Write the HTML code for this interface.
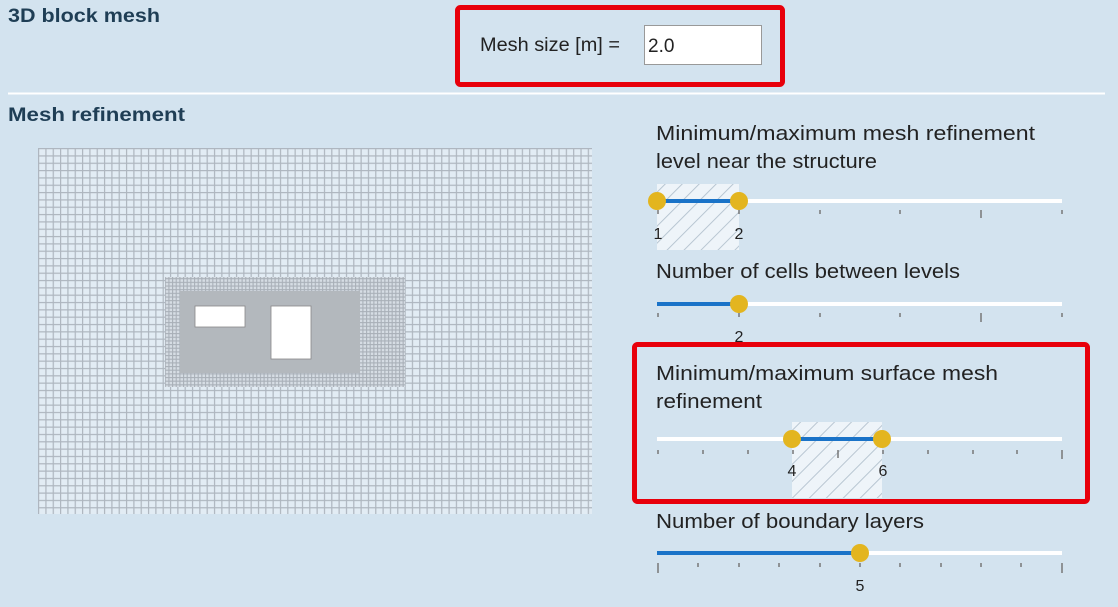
<!DOCTYPE html>
<html><head><meta charset="utf-8"><style>
html,body{margin:0;padding:0;}
body{width:1118px;height:607px;background:#d3e3ef;overflow:hidden;position:relative;font-family:"Liberation Sans",sans-serif;}
</style></head><body>
<svg width="1118" height="607" style="position:absolute;left:0;top:0" font-family="Liberation Sans, sans-serif">
<defs>
<pattern id="g1" x="38" y="148" width="7.33" height="7.33" patternUnits="userSpaceOnUse">
<rect width="7.33" height="7.33" fill="#e2ecf4"/>
<rect x="0" y="0" width="1.2" height="7.33" fill="#aeb6bf"/>
<rect x="0" y="0" width="7.33" height="1.2" fill="#aeb6bf"/>
</pattern>
<pattern id="g2" x="0" y="0" width="3.66" height="3.66" patternUnits="userSpaceOnUse">
<rect width="3.66" height="3.66" fill="#d6dde4"/>
<rect width="1.1" height="3.66" fill="#a9b0b8"/>
<rect width="3.66" height="1.1" fill="#a9b0b8"/>
</pattern>
<pattern id="h" width="12" height="12" patternUnits="userSpaceOnUse" patternTransform="rotate(45)">
<rect width="12" height="12" fill="#eef4f9"/>
<rect width="1" height="12" fill="#b8c6d2"/>
</pattern>
</defs>
<text x="8" y="22" font-size="19" font-weight="bold" fill="#1f3e55" textLength="152" lengthAdjust="spacingAndGlyphs">3D block mesh</text>
<text x="8" y="121" font-size="19" font-weight="bold" fill="#1f3e55" textLength="177" lengthAdjust="spacingAndGlyphs">Mesh refinement</text>
<line x1="8" y1="93.5" x2="1105" y2="93.5" stroke="#fff" stroke-width="2"/>
<rect x="457.5" y="7.5" width="325" height="77" rx="3" fill="none" stroke="#e8000b" stroke-width="5"/>
<text x="480" y="51" font-size="19" fill="#222" textLength="140" lengthAdjust="spacingAndGlyphs">Mesh size [m] =</text>
<rect x="644.5" y="25.5" width="117" height="39" fill="#fff" stroke="#999"/>
<text x="648" y="52" font-size="19" fill="#222">2.0</text>

<rect x="38" y="148" width="554" height="366" fill="url(#g1)"/>
<rect x="165" y="277" width="240" height="110" fill="url(#g2)"/>
<rect x="180" y="291" width="180" height="82" fill="#b3b8bd"/>
<rect x="195" y="306" width="50" height="21" fill="#fff" stroke="#888" stroke-width="0.8"/>
<rect x="271" y="306" width="40" height="53" fill="#fff" stroke="#888" stroke-width="0.8"/>

<g font-size="20" fill="#222" lengthAdjust="spacingAndGlyphs">
<text x="656" y="140" textLength="379" lengthAdjust="spacingAndGlyphs">Minimum/maximum mesh refinement</text>
<text x="656" y="168" textLength="221" lengthAdjust="spacingAndGlyphs">level near the structure</text>
<text x="656" y="278" textLength="304" lengthAdjust="spacingAndGlyphs">Number of cells between levels</text>
<text x="656" y="380" textLength="342" lengthAdjust="spacingAndGlyphs">Minimum/maximum surface mesh</text>
<text x="656" y="408" textLength="106" lengthAdjust="spacingAndGlyphs">refinement</text>
<text x="656" y="528" textLength="268" lengthAdjust="spacingAndGlyphs">Number of boundary layers</text>
</g>

<!-- slider 1 -->
<rect x="657" y="184" width="82" height="66" fill="url(#h)"/>
<line x1="657" y1="201" x2="1062" y2="201" stroke="#fff" stroke-width="4"/>
<line x1="657" y1="201" x2="739" y2="201" stroke="#1a73c8" stroke-width="4"/>
<g stroke="#777" stroke-width="1.5">
<line x1="658" y1="210" x2="658" y2="214"/><line x1="739" y1="210" x2="739" y2="214"/><line x1="820" y1="210" x2="820" y2="214"/><line x1="900" y1="210" x2="900" y2="214"/><line x1="981" y1="210" x2="981" y2="218"/><line x1="1062" y1="210" x2="1062" y2="214"/>
</g>
<circle cx="657" cy="201" r="9" fill="#e3b51f"/><circle cx="739" cy="201" r="9" fill="#e3b51f"/>
<text x="658" y="239" font-size="16" fill="#222" text-anchor="middle">1</text>
<text x="739" y="239" font-size="16" fill="#222" text-anchor="middle">2</text>

<!-- slider 2 -->
<line x1="657" y1="304" x2="1062" y2="304" stroke="#fff" stroke-width="4"/>
<line x1="657" y1="304" x2="739" y2="304" stroke="#1a73c8" stroke-width="4"/>
<g stroke="#777" stroke-width="1.5">
<line x1="658" y1="313" x2="658" y2="317"/><line x1="739" y1="313" x2="739" y2="317"/><line x1="820" y1="313" x2="820" y2="317"/><line x1="900" y1="313" x2="900" y2="317"/><line x1="981" y1="313" x2="981" y2="322"/><line x1="1062" y1="313" x2="1062" y2="317"/>
</g>
<circle cx="739" cy="304" r="9" fill="#e3b51f"/>
<text x="739" y="342" font-size="16" fill="#222" text-anchor="middle">2</text>

<!-- slider 3 -->
<rect x="792" y="422" width="90" height="76" fill="url(#h)"/>
<line x1="657" y1="439" x2="1062" y2="439" stroke="#fff" stroke-width="4"/>
<line x1="800" y1="439" x2="874" y2="439" stroke="#1a73c8" stroke-width="4"/>
<g stroke="#777" stroke-width="1.5">
<line x1="658" y1="450" x2="658" y2="454"/><line x1="703" y1="450" x2="703" y2="454"/><line x1="748" y1="450" x2="748" y2="454"/><line x1="793" y1="450" x2="793" y2="454"/><line x1="838" y1="450" x2="838" y2="458"/><line x1="883" y1="450" x2="883" y2="454"/><line x1="928" y1="450" x2="928" y2="454"/><line x1="973" y1="450" x2="973" y2="454"/><line x1="1017" y1="450" x2="1017" y2="454"/><line x1="1062" y1="450" x2="1062" y2="459"/>
</g>
<circle cx="792" cy="439" r="9" fill="#e3b51f"/><circle cx="882" cy="439" r="9" fill="#e3b51f"/>
<text x="792" y="476" font-size="16" fill="#222" text-anchor="middle">4</text>
<text x="883" y="476" font-size="16" fill="#222" text-anchor="middle">6</text>

<rect x="634.5" y="344.5" width="453" height="157" rx="3" fill="none" stroke="#e8000b" stroke-width="5"/>

<!-- slider 4 -->
<line x1="657" y1="553" x2="1062" y2="553" stroke="#fff" stroke-width="4"/>
<line x1="657" y1="553" x2="860" y2="553" stroke="#1a73c8" stroke-width="4"/>
<g stroke="#777" stroke-width="1.5">
<line x1="658" y1="563" x2="658" y2="573"/><line x1="698" y1="563" x2="698" y2="567"/><line x1="739" y1="563" x2="739" y2="567"/><line x1="779" y1="563" x2="779" y2="567"/><line x1="820" y1="563" x2="820" y2="567"/><line x1="860" y1="563" x2="860" y2="567"/><line x1="900" y1="563" x2="900" y2="567"/><line x1="941" y1="563" x2="941" y2="567"/><line x1="981" y1="563" x2="981" y2="567"/><line x1="1021" y1="563" x2="1021" y2="567"/><line x1="1062" y1="563" x2="1062" y2="573"/>
</g>
<circle cx="860" cy="553" r="9" fill="#e3b51f"/>
<text x="860" y="591" font-size="16" fill="#222" text-anchor="middle">5</text>
</svg>
</body></html>
